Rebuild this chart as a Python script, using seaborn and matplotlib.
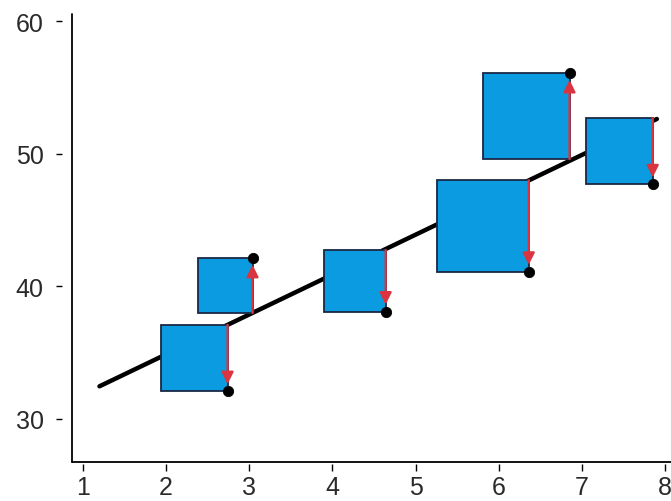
import matplotlib
matplotlib.use("Agg")
import matplotlib.pyplot as plt
from matplotlib.patches import Rectangle
import seaborn as sns
import pandas as pd

# ---- data ----
x_vals = [2.74, 3.04, 4.64, 6.36, 6.85, 7.85]
y_vals = [32.1, 42.15, 38.1, 41.1, 56.1, 47.7]
fitted = [37.1, 38.0, 42.75, 48.0, 49.6, 52.7]
line_x = [1.2, 7.9]
line_y = [32.46, 52.63]
x_ticks = [1, 2, 3, 4, 5, 6, 7, 8]
y_ticks = [30, 40, 50, 60]

sns.set_theme(style="ticks")
plt.rcParams['font.family'] = ['Liberation Sans', 'DejaVu Sans']

W, H = 671, 502
fig = plt.figure(figsize=(W / 100, H / 100), dpi=100)
left, bottom, right, top = 72 / W, (H - 463) / H, 1.0, (H - 15) / H
ax = fig.add_axes([left, bottom, right - left, top - bottom])
ax.set_facecolor("white")
fig.patch.set_facecolor("white")

xlim = (0.87, 8.07)
ylim = (26.75, 60.55)
ax.set_xlim(*xlim)
ax.set_ylim(*ylim)

pts = pd.DataFrame({"x": x_vals, "y": y_vals})
ln = pd.DataFrame({"x": line_x, "y": line_y})

# regression line (below squares)
sns.lineplot(data=ln, x="x", y="y", ax=ax, color="black", linewidth=3.2,
             zorder=1, legend=False)

# squares: side = |residual| in y units, converted so they look square
ax_w_px = (right - left) * W
ax_h_px = (top - bottom) * H
x_per_px = (xlim[1] - xlim[0]) / ax_w_px
y_per_px = (ylim[1] - ylim[0]) / ax_h_px
ratio = x_per_px / y_per_px
for xi, yi, fi in zip(x_vals, y_vals, fitted):
    side = abs(yi - fi)
    w = side * ratio
    ax.add_patch(Rectangle((xi - w, min(yi, fi)), w, side,
                           facecolor="#0B9BE0", edgecolor="#1B2745",
                           linewidth=1.3, zorder=2))
    ax.annotate("", xy=(xi, yi), xytext=(xi, fi),
                arrowprops=dict(arrowstyle="-|>,head_length=0.6,head_width=0.3",
                                color="#D9343F", lw=1.6, shrinkA=0, shrinkB=5),
                zorder=3)

sns.scatterplot(data=pts, x="x", y="y", ax=ax, color="black", s=55,
                edgecolor="black", zorder=4, legend=False)

ax.set_xticks(x_ticks)
ax.set_yticks(y_ticks)
ax.set_xlabel("")
ax.set_ylabel("")

for s in ["top", "right"]:
    ax.spines[s].set_visible(False)
ax.spines["left"].set_position(("outward", 7))
ax.spines["bottom"].set_position(("outward", 1.5))
ax.spines["left"].set_visible(False)
ax.spines["bottom"].set_visible(False)
ax.plot([0, 0], [0, 1], transform=ax.transAxes, color="black", lw=1.3,
        clip_on=False, zorder=5)
ax.plot([0, 1], [0, 0], transform=ax.transAxes, color="black", lw=1.3,
        clip_on=False, zorder=5)

ax.tick_params(axis="y", length=4.3, width=1.0, color="black", pad=9,
               labelsize=18, labelcolor="#2a2a2a")
ax.tick_params(axis="x", length=5, width=1.0, color="black", pad=3,
               labelsize=18, labelcolor="#2a2a2a")

fig.savefig("out.png", dpi=100, facecolor="white")
